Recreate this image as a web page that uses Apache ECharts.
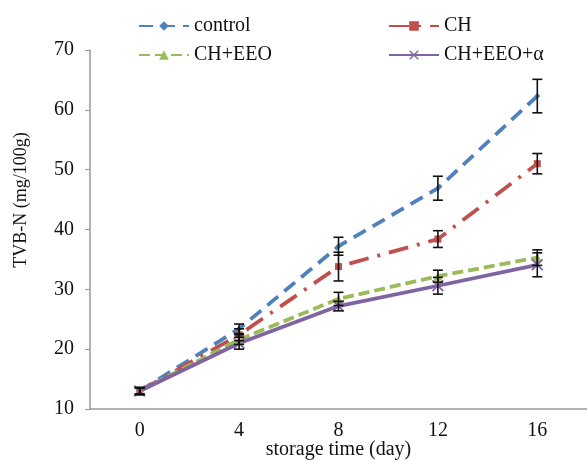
<!DOCTYPE html>
<html>
<head>
<meta charset="utf-8">
<script src="https://cdn.jsdelivr.net/npm/echarts@6/dist/echarts.min.js"></script>
<style>
  html, body { margin: 0; padding: 0; background: #fff; }
  #chart { width: 587px; height: 461px; }
</style>
</head>
<body>
<div id="chart"></div>
<script>
var days = ["0", "4", "8", "12", "16"];
var control = [13.0, 23.4, 37.2, 46.9, 62.3];
var controlSd = [0.6, 0.8, 1.5, 2.0, 2.8];
var ch = [13.0, 22.4, 33.8, 38.4, 51.0];
var chSd = [0.5, 1.0, 2.4, 1.4, 1.7];
var chEeo = [13.0, 21.6, 28.4, 32.2, 35.3];
var chEeoSd = [0.5, 0.8, 1.1, 1.0, 1.3];
var chEeoA = [13.0, 21.0, 27.2, 30.6, 34.1];
var chEeoASd = [0.6, 1.0, 0.8, 1.4, 2.0];
var yTicks = { min: 10, max: 70, interval: 10 };

var names = ["control", "CH", "CH+EEO", "CH+EEO+\u03b1"];
var colors = ["#4f81bd", "#c0504d", "#9bbb59", "#8064a2"];
var xMark = "path://M0,1L1,0L5,4L9,0L10,1L6,5L10,9L9,10L5,6L1,10L0,9L4,5Z";

var serif = "Liberation Serif";

function errData(mean, sd) {
  return mean.map(function (v, i) { return [i, v - sd[i], v + sd[i]]; });
}

function errSeries(mean, sd) {
  return {
    type: "custom",
    data: errData(mean, sd),
    z: 5,
    silent: true,
    encode: { x: 0, y: [1, 2] },
    renderItem: function (params, api) {
      var x = api.value(0);
      var lo = api.coord([x, api.value(1)]);
      var hi = api.coord([x, api.value(2)]);
      var w = 5;
      var st = { stroke: "#111", lineWidth: 1.6 };
      return {
        type: "group",
        children: [
          { type: "line", shape: { x1: lo[0], y1: lo[1], x2: hi[0], y2: hi[1] }, style: st },
          { type: "line", shape: { x1: lo[0] - w, y1: lo[1], x2: lo[0] + w, y2: lo[1] }, style: st },
          { type: "line", shape: { x1: hi[0] - w, y1: hi[1], x2: hi[0] + w, y2: hi[1] }, style: st }
        ]
      };
    }
  };
}

function lineSeries(name, data, color, dash, symbol, size) {
  return {
    name: name,
    type: "line",
    data: data,
    z: 3,
    symbol: symbol,
    symbolSize: size,
    itemStyle: { color: color },
    lineStyle: { color: color, width: 3.8, type: dash },
    emphasis: { disabled: true }
  };
}

function legendAt(name, left, top) {
  return {
    data: [name],
    left: left,
    top: top,
    itemWidth: 50,
    itemHeight: 12,
    itemGap: 11,
    textStyle: { fontFamily: serif, fontSize: 20, color: "#111" }
  };
}

var chart = echarts.init(document.getElementById("chart"));
chart.setOption({
  animation: false,
  legend: [
    legendAt(names[0], 133, 11),
    legendAt(names[1], 383, 11),
    legendAt(names[2], 133, 40),
    legendAt(names[3], 383, 40)
  ],
  graphic: [{
    type: "text",
    x: 21,
    y: 200,
    rotation: Math.PI / 2,
    style: {
      text: "TVB-N (mg/100g)",
      font: "18px " + serif,
      fill: "#111",
      align: "center",
      verticalAlign: "middle"
    }
  }],
  grid: { left: 90, top: 50, right: 0, bottom: 52, outerBoundsMode: "none" },
  xAxis: {
    type: "category",
    data: days,
    boundaryGap: true,
    name: "storage time (day)",
    nameLocation: "middle",
    nameGap: 31,
    nameMoveOverlap: false,
    nameTextStyle: { fontFamily: serif, fontSize: 20, color: "#111" },
    axisLine: { lineStyle: { color: "#999", width: 1.5 } },
    axisTick: { length: 5, lineStyle: { color: "#999" } },
    axisLabel: { fontFamily: serif, fontSize: 20, color: "#111", margin: 12 }
  },
  yAxis: {
    type: "value",
    min: yTicks.min,
    max: yTicks.max,
    interval: yTicks.interval,
    splitLine: { show: false },
    axisLine: { show: true, lineStyle: { color: "#999", width: 1.5 } },
    axisTick: { show: true, length: 5, lineStyle: { color: "#999" } },
    axisLabel: { fontFamily: serif, fontSize: 20, color: "#111", margin: 16 }
  },
  series: [
    lineSeries(names[0], control, colors[0], [14, 8], "diamond", 6),
    lineSeries(names[1], ch, colors[1], [20, 9, 3, 9], "rect", 7),
    lineSeries(names[2], chEeo, colors[2], [11, 5], "triangle", 9),
    lineSeries(names[3], chEeoA, colors[3], "solid", xMark, 12),
    errSeries(control, controlSd),
    errSeries(ch, chSd),
    errSeries(chEeo, chEeoSd),
    errSeries(chEeoA, chEeoASd)
  ]
});
</script>
</body>
</html>
